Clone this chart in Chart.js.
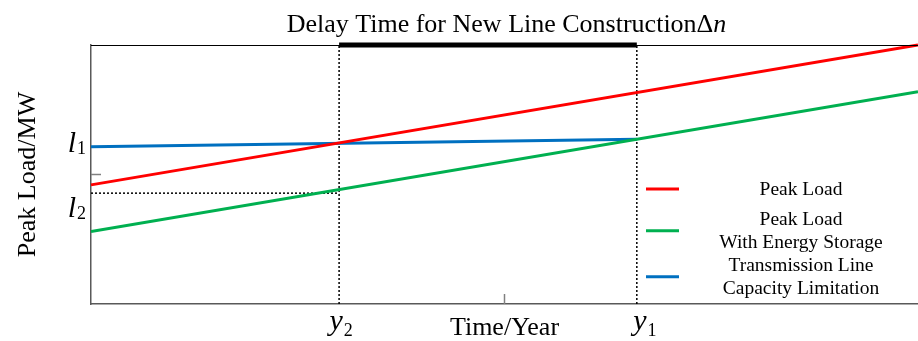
<!DOCTYPE html>
<html>
<head>
<meta charset="utf-8">
<script src="https://cdn.jsdelivr.net/npm/chart.js@4.4.1/dist/chart.umd.min.js"></script>
<style>
  html, body { margin: 0; padding: 0; background: #fff; }
  #wrap { width: 918px; height: 341px; }
</style>
</head>
<body>
<div id="wrap"><canvas id="myChart"></canvas></div>
<script>
// chart values (arbitrary units, axis runs 0..10 both ways)
const years = [0, 10];
const peakLoad = [4.6, 10];
const peakLoadStorage = [2.8, 8.2];
const capacityYears = [0, 6.6];
const capacityLimit = [6.07, 6.36];
const yearY2 = 3;
const yearY1 = 6.6;
const levelL1 = 6.07;
const levelL2 = 4.28;
const xTicks = [5];
const yTicks = [5];
const legendLabels = [
    ['Peak Load'],
    ['Peak Load', 'With Energy Storage'],
    ['Transmission Line', 'Capacity Limitation']
];

const SERIF = '"Liberation Serif", "Times New Roman", serif';
const AXIS_GREY = '#595959';

const toPoints = (xs, ys) => xs.map((x, i) => ({ x: x, y: ys[i] }));

const dotted = (points, width) => ({
    data: points,
    borderColor: '#000',
    borderWidth: width,
    borderDash: [2, 2],
    pointRadius: 0
});

// italic symbol with upright subscript, e.g. l1, y2
function drawMath(ctx, base, sub, x, y, align, subDrop) {
    ctx.font = `italic 30px ${SERIF}`;
    const wb = ctx.measureText(base).width;
    ctx.font = `18px ${SERIF}`;
    const ws = ctx.measureText(sub).width;
    const left = align === 'right' ? x - wb - ws : x - wb / 2;
    ctx.textAlign = 'left';
    ctx.textBaseline = 'alphabetic';
    ctx.fillStyle = '#000';
    ctx.font = `italic 30px ${SERIF}`;
    ctx.fillText(base, left, y);
    ctx.font = `18px ${SERIF}`;
    ctx.fillText(sub, left + wb + 1, y + subDrop);
}

const annotations = {
    id: 'annotations',
    afterDraw(chart) {
        const { ctx, chartArea: area, scales: { x, y } } = chart;
        ctx.save();

        // top frame line
        ctx.strokeStyle = '#000';
        ctx.lineWidth = 1;
        ctx.beginPath();
        ctx.moveTo(area.left, area.top + 0.5);
        ctx.lineTo(area.right, area.top + 0.5);
        ctx.stroke();

        // inward tick marks
        ctx.strokeStyle = '#808080';
        ctx.lineWidth = 1.5;
        yTicks.forEach(v => {
            const py = y.getPixelForValue(v);
            ctx.beginPath();
            ctx.moveTo(area.left, py);
            ctx.lineTo(area.left + 10, py);
            ctx.stroke();
        });
        xTicks.forEach(v => {
            const px = x.getPixelForValue(v);
            ctx.beginPath();
            ctx.moveTo(px, area.bottom);
            ctx.lineTo(px, area.bottom - 10);
            ctx.stroke();
        });

        // title
        const t1 = 'Delay Time for New Line Construction\u0394';
        const t2 = 'n';
        ctx.font = `26px ${SERIF}`;
        const w1 = ctx.measureText(t1).width;
        ctx.font = `italic 26px ${SERIF}`;
        const w2 = ctx.measureText(t2).width;
        const tx = (area.left + area.right) / 2 + 2 - (w1 + w2) / 2;
        ctx.fillStyle = '#000';
        ctx.textAlign = 'left';
        ctx.textBaseline = 'alphabetic';
        ctx.font = `26px ${SERIF}`;
        ctx.fillText(t1, tx, 32);
        ctx.font = `italic 26px ${SERIF}`;
        ctx.fillText(t2, tx + w1, 32);

        // math labels on the axes
        drawMath(ctx, 'l', '1', area.left - 6, y.getPixelForValue(levelL1) + 5, 'right', 2);
        drawMath(ctx, 'l', '2', area.left - 6, y.getPixelForValue(levelL2) + 24, 'right', 2);
        drawMath(ctx, 'y', '2', x.getPixelForValue(yearY2) - 3, area.bottom + 26, 'center', 6);
        drawMath(ctx, 'y', '1', x.getPixelForValue(yearY1) + 3, area.bottom + 26, 'center', 6);

        // legend
        const centers = [189, 230.7, 276.7];
        const colors = chart.data.datasets.slice(0, 3).map(d => d.borderColor);
        legendLabels.forEach((lines, i) => {
            const cy = centers[i];
            ctx.strokeStyle = colors[i];
            ctx.lineWidth = 3;
            ctx.beginPath();
            ctx.moveTo(646, cy);
            ctx.lineTo(679, cy);
            ctx.stroke();
            ctx.font = `19.5px ${SERIF}`;
            ctx.textAlign = 'center';
            ctx.fillStyle = '#000';
            lines.forEach((txt, j) => {
                ctx.fillText(txt, 801, cy + 6 + (j - (lines.length - 1) / 2) * 22.5);
            });
        });

        ctx.restore();
    }
};

const chartElement = document.getElementById('myChart');

const chart = new Chart(chartElement, {
    type: 'line',
    data: {
        datasets: [
            {
                label: 'Peak Load',
                data: toPoints(years, peakLoad),
                borderColor: '#ff0000',
                borderWidth: 3,
                pointRadius: 0,
                clip: false
            },
            {
                label: 'Peak Load With Energy Storage',
                data: toPoints(years, peakLoadStorage),
                borderColor: '#00b050',
                borderWidth: 3,
                pointRadius: 0
            },
            {
                label: 'Transmission Line Capacity Limitation',
                data: toPoints(capacityYears, capacityLimit),
                borderColor: '#0070c0',
                borderWidth: 3,
                pointRadius: 0
            },
            dotted([{ x: yearY2, y: 0 }, { x: yearY2, y: 10 }], 1.5),
            dotted([{ x: yearY1, y: 0 }, { x: yearY1, y: 10 }], 1.5),
            dotted([{ x: 0, y: levelL2 }, { x: yearY2, y: levelL2 }], 1.5),
            {
                data: [{ x: yearY2, y: 10 }, { x: yearY1, y: 10 }],
                borderColor: '#000',
                borderWidth: 5,
                pointRadius: 0,
                clip: false
            }
        ]
    },
    options: {
        responsive: true,
        maintainAspectRatio: false,
        animation: false,
        layout: { padding: { top: 45, right: 0, left: 0, bottom: 0 } },
        plugins: {
            legend: { display: false },
            tooltip: { enabled: false }
        },
        scales: {
            x: {
                type: 'linear',
                min: 0,
                max: 10,
                grid: { display: false },
                border: { display: true, color: AXIS_GREY, width: 1.5 },
                ticks: { display: false },
                title: {
                    display: true,
                    text: 'Time/Year',
                    color: '#000',
                    font: { family: SERIF, size: 26 },
                    padding: { top: 0, bottom: -3 }
                },
                afterFit: scale => { scale.height = 37; }
            },
            y: {
                min: 0,
                max: 10,
                grid: { display: false },
                border: { display: true, color: AXIS_GREY, width: 1.5 },
                ticks: { display: false },
                title: {
                    display: true,
                    text: 'Peak Load/MW',
                    color: '#000',
                    font: { family: SERIF, size: 26 },
                    padding: { top: 13, bottom: 0 }
                },
                afterFit: scale => { scale.width = 91; }
            }
        }
    },
    plugins: [annotations]
});
</script>
</body>
</html>
